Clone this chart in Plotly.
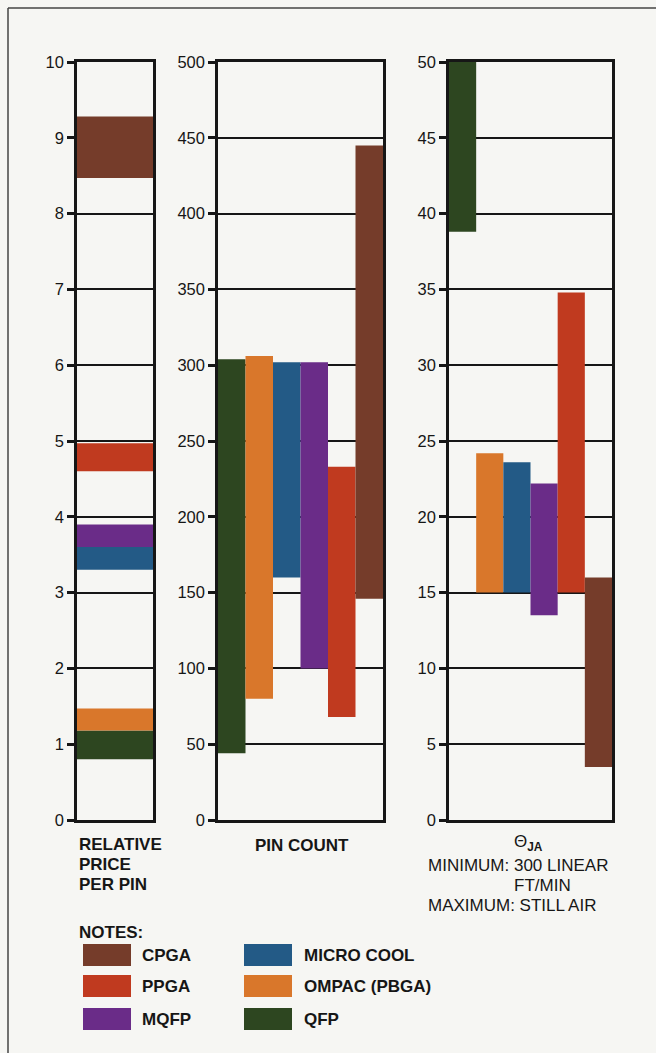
import plotly.graph_objects as go

# ---------------- data ----------------
categories = ["QFP", "OMPAC (PBGA)", "MICRO COOL", "MQFP", "PPGA", "CPGA"]
colors = ["#2d4620", "#d9772b", "#235a86", "#6a2c88", "#c03a1f", "#753c2a"]

price_low = [0.80, 1.18, 3.30, 3.60, 4.60, 8.47]
price_high = [1.18, 1.47, 3.60, 3.90, 4.97, 9.28]

pins_low = [44, 80, 160, 100, 68, 146]
pins_high = [304, 306, 302, 302, 233, 445]

theta_low = [38.8, 15.0, 15.0, 13.5, 15.0, 3.5]
theta_high = [50.3, 24.2, 23.6, 22.2, 34.8, 16.0]

price_ticks = list(range(0, 11, 1))
pin_ticks = list(range(0, 501, 50))
theta_ticks = list(range(0, 51, 5))

legend_left = ["CPGA", "PPGA", "MQFP"]
legend_right = ["MICRO COOL", "OMPAC (PBGA)", "QFP"]

# ---------------- layout helpers ----------------
W, H = 656, 1053
BG = "#f6f6f3"
INK = "#161616"
FONT = "Liberation Sans, Arial, Helvetica, sans-serif"

def fx(px):
    return px / W

def fy(py):
    return 1 - py / H

ydom = [fy(820), fy(62)]

fig = go.Figure()

diff = lambda hi, lo: [h - l for h, l in zip(hi, lo)]

fig.add_trace(go.Bar(
    x=[0.5] * len(categories), y=diff(price_high, price_low), base=price_low,
    width=1, marker=dict(color=colors, line=dict(width=0)),
    xaxis="x", yaxis="y", showlegend=False, hoverinfo="skip"))
fig.add_trace(go.Bar(
    x=list(range(len(categories))), y=diff(pins_high, pins_low), base=pins_low,
    width=1, marker=dict(color=colors, line=dict(width=0)),
    xaxis="x2", yaxis="y2", showlegend=False, hoverinfo="skip"))
fig.add_trace(go.Bar(
    x=list(range(len(categories))), y=diff(theta_high, theta_low), base=theta_low,
    width=1, marker=dict(color=colors, line=dict(width=0)),
    xaxis="x3", yaxis="y3", showlegend=False, hoverinfo="skip"))

def xax(dom, rng):
    return dict(domain=dom, range=rng, showgrid=False, zeroline=False,
                showticklabels=False, ticks="", showline=True, mirror=True,
                linecolor=INK, linewidth=2.5, fixedrange=True, automargin=False)

def yax(anchor, rng, ticks):
    return dict(domain=ydom, range=rng, anchor=anchor, tickvals=ticks,
                ticks="outside", ticklen=7, tickwidth=2.5, tickcolor=INK,
                showline=True, mirror=True, linecolor=INK, linewidth=2.5,
                showgrid=True, gridcolor=INK, gridwidth=2.2, zeroline=False,
                tickfont=dict(size=16.5, color=INK, family=FONT), fixedrange=True,
                automargin=False)

fig.update_layout(
    template="none",
    width=W, height=H, autosize=False, margin=dict(l=0, r=0, t=0, b=0, pad=0),
    paper_bgcolor=BG, plot_bgcolor=BG, barmode="overlay",
    font=dict(family=FONT, color=INK),
    xaxis=xax([fx(77), fx(153)], [0, 1]),
    xaxis2=xax([fx(218), fx(383)], [-0.5, 5.5]),
    xaxis3=xax([fx(449), fx(612)], [-0.5, 5.5]),
    yaxis=yax("x", [0, 10], price_ticks),
    yaxis2=yax("x2", [0, 500], pin_ticks),
    yaxis3=yax("x3", [0, 50], theta_ticks),
)

ann = []
def text(x, y, s, size=17, xanchor="left", bold=False):
    ann.append(dict(x=fx(x), y=fy(y), xref="paper", yref="paper", text=(f"<b>{s}</b>" if bold else s),
                    showarrow=False, xanchor=xanchor, yanchor="middle",
                    font=dict(size=size, color=INK, family=FONT)))

text(77, 844, "RELATIVE", bold=True)
text(77, 864, "PRICE", bold=True)
text(77, 884, "PER PIN", bold=True)
text(302, 845, "PIN COUNT", xanchor="center", bold=True)
text(528, 843, "Θ<sub><b>JA</b></sub>", xanchor="center")
text(426, 865, "MINIMUM: 300 LINEAR")
text(512, 885, "FT/MIN")
text(426, 905, "MAXIMUM: STILL AIR")
text(77, 932, "NOTES:", bold=True)

shapes = []
rows = [955, 986, 1019]
cmap = dict(zip(categories, colors))
for col_x, lab_x, names in [(83, 140, legend_left), (244, 302, legend_right)]:
    for ry, name in zip(rows, names):
        shapes.append(dict(type="rect", xref="paper", yref="paper",
                           x0=fx(col_x), x1=fx(col_x + 48), y0=fy(ry + 11), y1=fy(ry - 11),
                           fillcolor=cmap[name], line=dict(width=0)))
        text(lab_x, ry, name, bold=True)

# page frame (top and left rules)
shapes.append(dict(type="line", xref="paper", yref="paper", x0=fx(8), x1=1, y0=fy(8), y1=fy(8),
                   line=dict(color="#444", width=1.5)))
shapes.append(dict(type="line", xref="paper", yref="paper", x0=fx(8), x1=fx(8), y0=fy(8), y1=0,
                   line=dict(color="#444", width=1.5)))

fig.update_layout(annotations=ann, shapes=shapes)
fig.write_html("out.html", config={"displayModeBar": False},
               post_script="document.body.style.margin='0';document.body.style.overflow='hidden';")
